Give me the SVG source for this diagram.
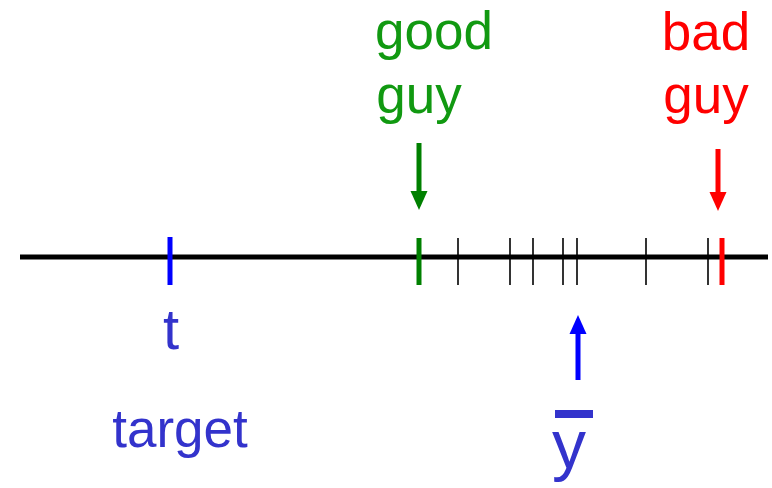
<svg xmlns="http://www.w3.org/2000/svg" width="772" height="488" viewBox="0 0 772 488">
<style>
text{font-family:"Liberation Sans",Arial,sans-serif;}
.g{fill:#119911;font-size:53px;}
.r{fill:#ff0000;font-size:53px;}
.b{fill:#3333cc;}
.tick{stroke:#000;stroke-width:1.6;}
</style>
<g id="axis">
<line x1="20" y1="257" x2="768" y2="257" stroke="#000" stroke-width="5"/>
<line class="tick" x1="458" y1="238" x2="458" y2="285"/>
<line class="tick" x1="510" y1="238" x2="510" y2="285"/>
<line class="tick" x1="533" y1="238" x2="533" y2="285"/>
<line class="tick" x1="563" y1="238" x2="563" y2="285"/>
<line class="tick" x1="577" y1="238" x2="577" y2="285"/>
<line class="tick" x1="646" y1="238" x2="646" y2="285"/>
<line class="tick" x1="708" y1="238" x2="708" y2="285"/>
</g>
<g id="target">
<line x1="170" y1="237" x2="170" y2="285" stroke="#0000ff" stroke-width="5"/>
<text class="b" x="171" y="349" font-size="58" text-anchor="middle">t</text>
<text class="b" x="180" y="447" font-size="53" text-anchor="middle">target</text>
</g>
<g id="good">
<line x1="419" y1="238" x2="419" y2="285" stroke="#008000" stroke-width="5"/>
<text class="g" x="434" y="49" text-anchor="middle">good</text>
<text class="g" x="419" y="113" text-anchor="middle">guy</text>
</g>
<g id="bad">
<line x1="722" y1="238" x2="722" y2="285" stroke="#ff0000" stroke-width="5"/>
<text class="r" x="706" y="50" text-anchor="middle">bad</text>
<text class="r" x="706" y="113" text-anchor="middle">guy</text>
</g>
<g id="ybar">
<rect x="555" y="410" width="38" height="8" fill="#3333cc"/>
<text class="b" x="569" y="468" font-size="68" text-anchor="middle">y</text>
</g>
<g id="connectors">
<line x1="419" y1="143" x2="419" y2="194" stroke="#008000" stroke-width="5"/>
<path d="M410.5,191 L427.5,191 L419,210 Z" fill="#008000"/>
<line x1="718" y1="149" x2="718" y2="195" stroke="#ff0000" stroke-width="5"/>
<path d="M709.5,192 L726.5,192 L718,211 Z" fill="#ff0000"/>
<line x1="578" y1="380" x2="578" y2="331" stroke="#0000ff" stroke-width="5"/>
<path d="M569.5,334 L586.5,334 L578,315 Z" fill="#0000ff"/>
</g>
</svg>
